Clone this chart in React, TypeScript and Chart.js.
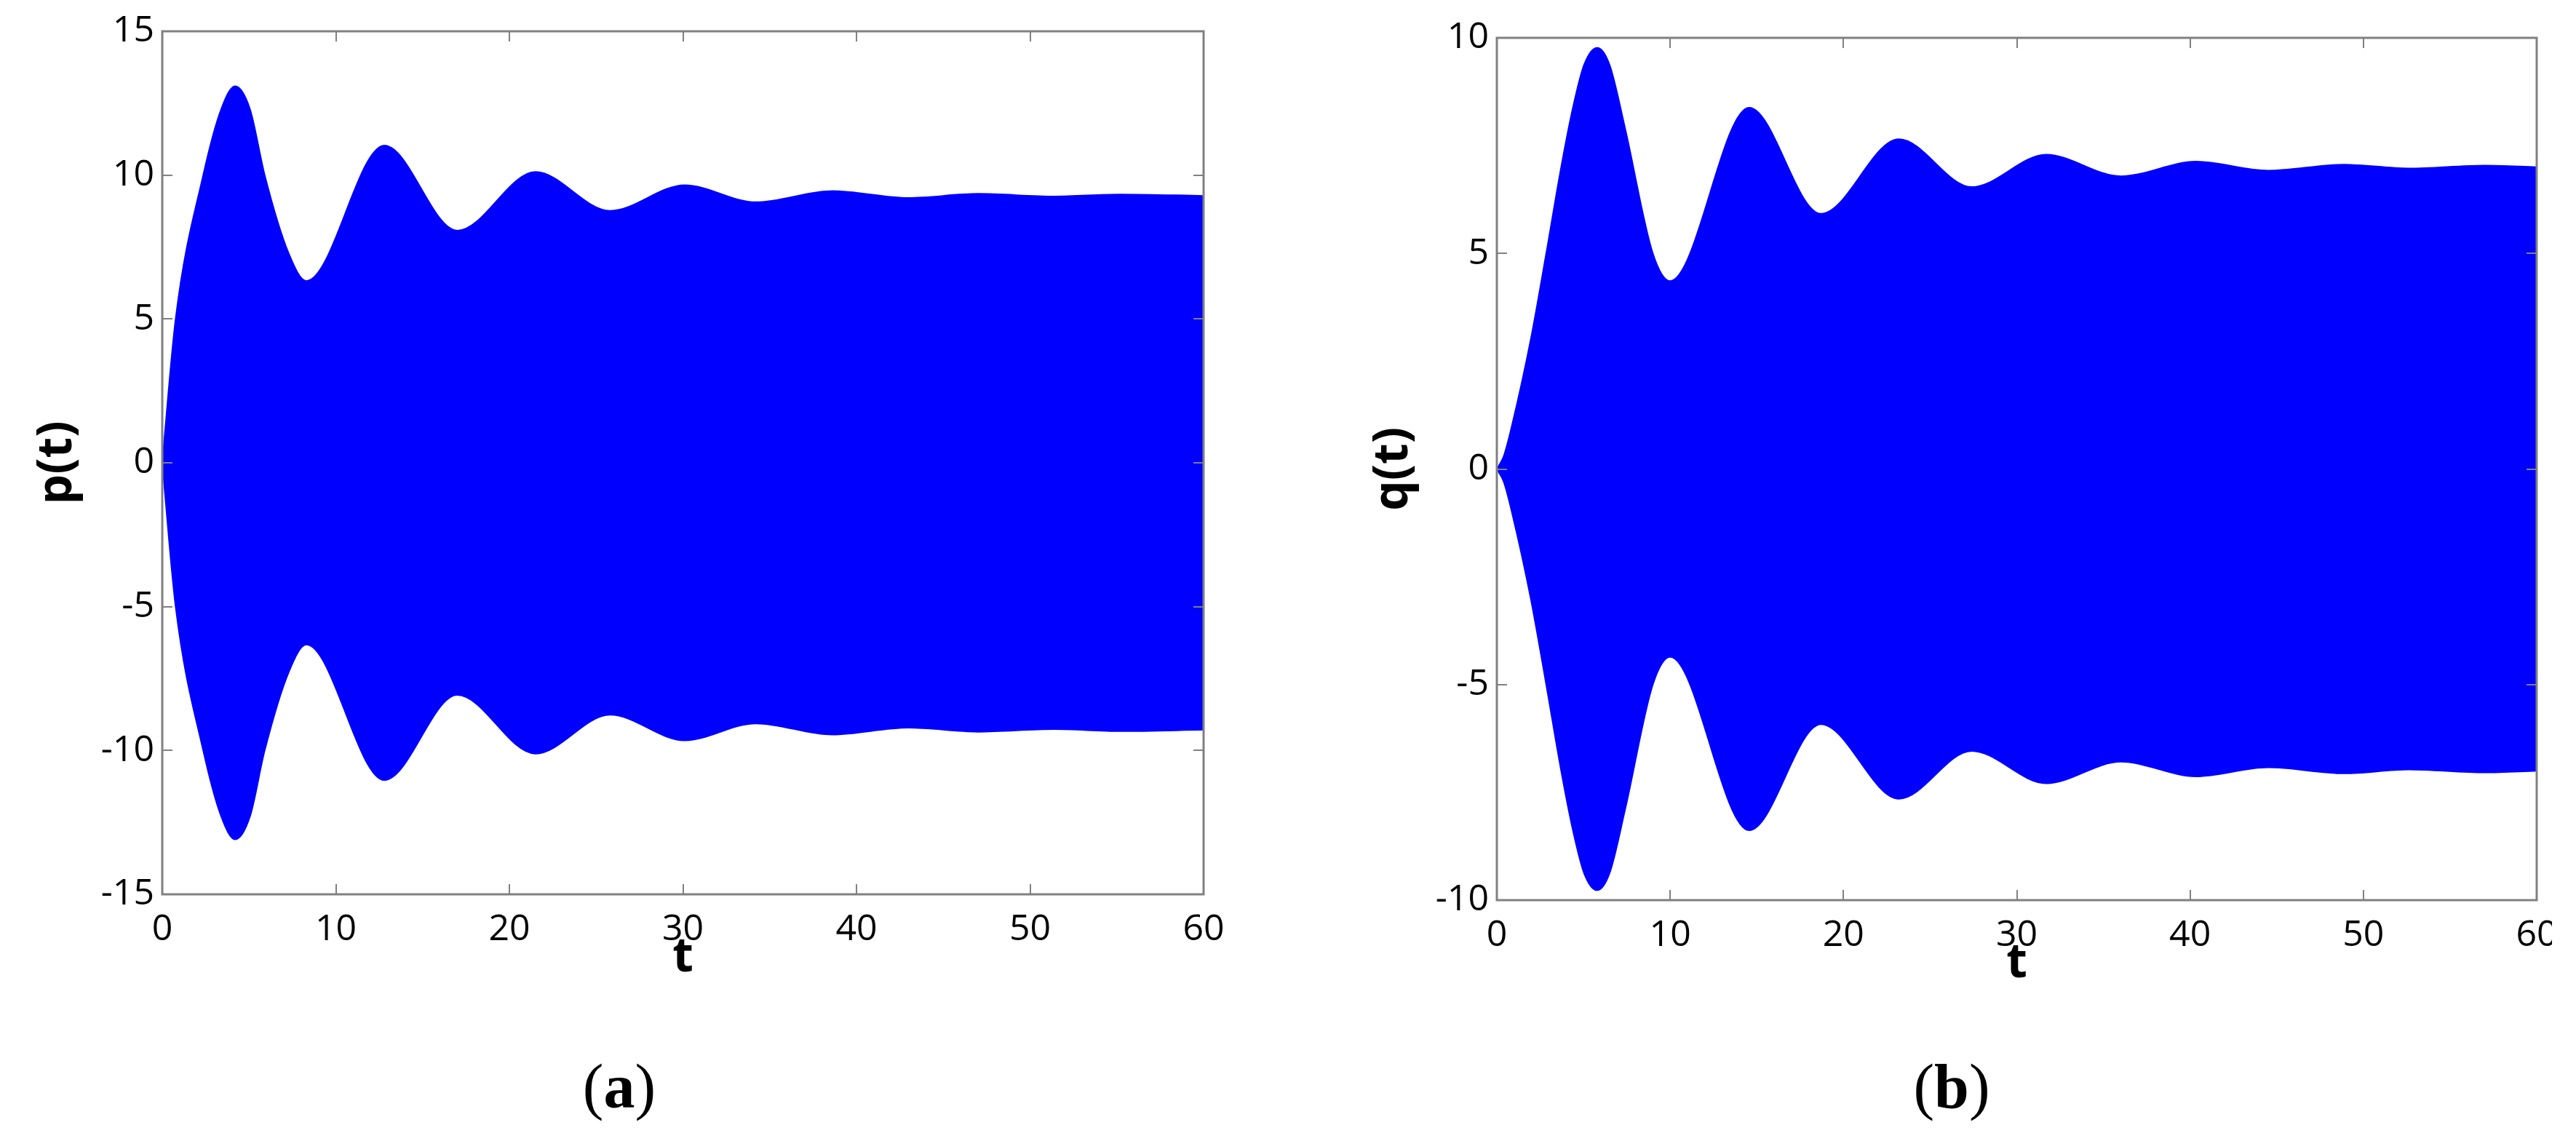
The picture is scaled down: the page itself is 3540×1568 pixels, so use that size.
import React, { useEffect, useRef } from 'react';
import { Chart, registerables } from 'chart.js';

Chart.register(...registerables);

// ---------- data ----------
const xTickValues = [0, 10, 20, 30, 40, 50, 60];
const pYTickValues = [-15, -10, -5, 0, 5, 10, 15];
const qYTickValues = [-10, -5, 0, 5, 10];

// p(t): envelope of the fast oscillation (upper / lower edges)
const pTime = [0, 0.77, 2.36, 3.4, 4.2, 5.05, 5.9, 7.27, 8.3, 12.8, 17.0, 21.5, 25.8, 30.1, 34.2, 38.6, 43.0, 47.0, 51.4, 55.2, 60];
const pUpper = [0, 5.0, 10.0, 12.3, 13.09, 12.3, 10.0, 7.3, 6.32, 11.03, 8.07, 10.11, 8.76, 9.65, 9.06, 9.45, 9.21, 9.35, 9.26, 9.33, 9.28];
const pLower = [0, -5.0, -10.0, -12.3, -13.09, -12.3, -10.0, -7.3, -6.32, -11.03, -8.07, -10.11, -8.76, -9.65, -9.06, -9.45, -9.21, -9.35, -9.26, -9.33, -9.28];

// q(t): envelope of the fast oscillation (upper / lower edges)
const qTime = [0, 0.4, 0.88, 1.97, 2.85, 3.73, 4.39, 5.04, 5.79, 6.5, 7.4, 9.0, 10.0, 14.56, 18.7, 23.2, 27.4, 31.7, 36.0, 40.35, 44.5, 48.9, 52.6, 57.0, 60];
const qUpper = [0, 0.3, 1.02, 3.03, 5.0, 7.04, 8.38, 9.38, 9.77, 9.38, 7.9, 5.0, 4.36, 8.38, 5.92, 7.65, 6.54, 7.29, 6.79, 7.13, 6.92, 7.06, 6.97, 7.04, 7.0];
const qLower = [0, -0.3, -1.02, -3.03, -5.0, -7.04, -8.38, -9.38, -9.77, -9.38, -7.9, -5.0, -4.36, -8.38, -5.92, -7.65, -6.54, -7.29, -6.79, -7.13, -6.92, -7.06, -6.97, -7.04, -7.0];

// ---------- styling ----------
const BLUE = '#0000ff';
const AXIS_GRAY = '#808080';
const TICK_FONT = { family: '"Open Sans", "DejaVu Sans", sans-serif', size: 50 };
const TITLE_FONT = { family: '"Open Sans", "DejaVu Sans", sans-serif', size: 66, weight: 'bold' as const };

const boxTicksPlugin = {
  id: 'boxTicks',
  afterDatasetsDraw(chart: any) {
    const { ctx, chartArea: a } = chart;
    const xs = chart.scales.x;
    const ys = chart.scales.y;
    const len = 14;
    ctx.save();
    ctx.strokeStyle = AXIS_GRAY;
    ctx.lineWidth = 2;
    ctx.beginPath();
    xs.ticks.forEach((t: any) => {
      const px = Math.round(xs.getPixelForValue(t.value));
      ctx.moveTo(px, a.bottom);
      ctx.lineTo(px, a.bottom - len);
      ctx.moveTo(px, a.top);
      ctx.lineTo(px, a.top + len);
    });
    ys.ticks.forEach((t: any) => {
      const py = Math.round(ys.getPixelForValue(t.value));
      ctx.moveTo(a.left, py);
      ctx.lineTo(a.left + len, py);
      ctx.moveTo(a.right, py);
      ctx.lineTo(a.right - len, py);
    });
    ctx.stroke();
    ctx.lineWidth = 3;
    ctx.strokeRect(a.left, a.top, a.right - a.left, a.bottom - a.top);
    ctx.restore();
  },
};

type PanelProps = {
  times: number[];
  upper: number[];
  lower: number[];
  yTicks: number[];
  yTitle: string;
  canvasW: number;
  canvasH: number;
  areaLeft: number;
  areaTop: number;
  areaRight: number;
  areaBottom: number;
  yTitlePad: number;
  xTitlePad: number;
};

function Panel(props: PanelProps) {
  const ref = useRef<HTMLCanvasElement | null>(null);
  useEffect(() => {
    if (!ref.current) return;
    const {
      times, upper, lower, yTicks, yTitle, canvasW, canvasH,
      areaLeft, areaTop, areaRight, areaBottom, yTitlePad, xTitlePad,
    } = props;
    const chart = new Chart(ref.current, {
      type: 'line',
      data: {
        datasets: [
          {
            data: times.map((t, i) => ({ x: t, y: upper[i] })),
            borderColor: BLUE,
            backgroundColor: BLUE,
            borderWidth: 2,
            pointRadius: 0,
            fill: '+1',
            cubicInterpolationMode: 'monotone',
          },
          {
            data: times.map((t, i) => ({ x: t, y: lower[i] })),
            borderColor: BLUE,
            backgroundColor: BLUE,
            borderWidth: 2,
            pointRadius: 0,
            fill: false,
            cubicInterpolationMode: 'monotone',
          },
        ],
      },
      options: {
        responsive: false,
        animation: false,
        events: [],
        layout: { padding: { top: areaTop, right: canvasW - areaRight, left: 0, bottom: 0 } },
        plugins: { legend: { display: false }, tooltip: { enabled: false } },
        scales: {
          x: {
            type: 'linear',
            min: xTickValues[0],
            max: xTickValues[xTickValues.length - 1],
            afterBuildTicks: (s: any) => { s.ticks = xTickValues.map((v) => ({ value: v })); },
            afterFit: (s: any) => { s.height = canvasH - areaBottom; },
            ticks: { font: TICK_FONT, color: '#000', padding: 19, maxRotation: 0, autoSkip: false },
            grid: { display: false, drawTicks: false },
            border: { display: false },
            title: { display: true, text: 't', font: TITLE_FONT, color: '#000', padding: { top: 0, bottom: xTitlePad } },
          },
          y: {
            type: 'linear',
            min: yTicks[0],
            max: yTicks[yTicks.length - 1],
            afterBuildTicks: (s: any) => { s.ticks = yTicks.map((v) => ({ value: v })); },
            afterFit: (s: any) => { s.width = areaLeft; },
            ticks: { font: TICK_FONT, color: '#000', padding: 11, autoSkip: false },
            grid: { display: false, drawTicks: false },
            border: { display: false },
            title: { display: true, text: yTitle, font: TITLE_FONT, color: '#000', padding: { top: yTitlePad, bottom: 0 } },
          },
        },
      } as any,
      plugins: [boxTicksPlugin],
    });
    return () => chart.destroy();
  }, []);
  return <canvas ref={ref} width={props.canvasW} height={props.canvasH} style={{ display: 'block' }} />;
}

const captionStyle: React.CSSProperties = {
  position: 'absolute',
  width: 300,
  textAlign: 'center',
  fontFamily: '"Liberation Serif", "Times New Roman", serif',
  fontSize: 86,
  lineHeight: '86px',
  color: '#000',
  whiteSpace: 'nowrap',
};

export default function App() {
  return (
    <div style={{ position: 'absolute', left: 0, top: 0, width: 3540, height: 1568, background: '#fff', overflow: 'hidden' }}>
      <div style={{ position: 'absolute', left: 0, top: 0, width: 1740, height: 1400, overflow: 'hidden' }}>
        <Panel
          times={pTime} upper={pUpper} lower={pLower} yTicks={pYTickValues} yTitle="p(t)"
          canvasW={1740} canvasH={1400} areaLeft={223} areaTop={43} areaRight={1654} areaBottom={1229}
          yTitlePad={40} xTitlePad={44}
        />
      </div>
      <div style={{ position: 'absolute', left: 1840, top: 0, width: 1667, height: 1400, overflow: 'hidden' }}>
        <Panel
          times={qTime} upper={qUpper} lower={qLower} yTicks={qYTickValues} yTitle="q(t)"
          canvasW={1740} canvasH={1400} areaLeft={217} areaTop={52} areaRight={1646} areaBottom={1237}
          yTitlePad={36} xTitlePad={36}
        />
      </div>
      <div style={{ ...captionStyle, left: 851 - 150, top: 1450 }}>
        (<b>a</b>)
      </div>
      <div style={{ ...captionStyle, left: 2682 - 150, top: 1450 }}>
        (<b>b</b>)
      </div>
    </div>
  );
}
